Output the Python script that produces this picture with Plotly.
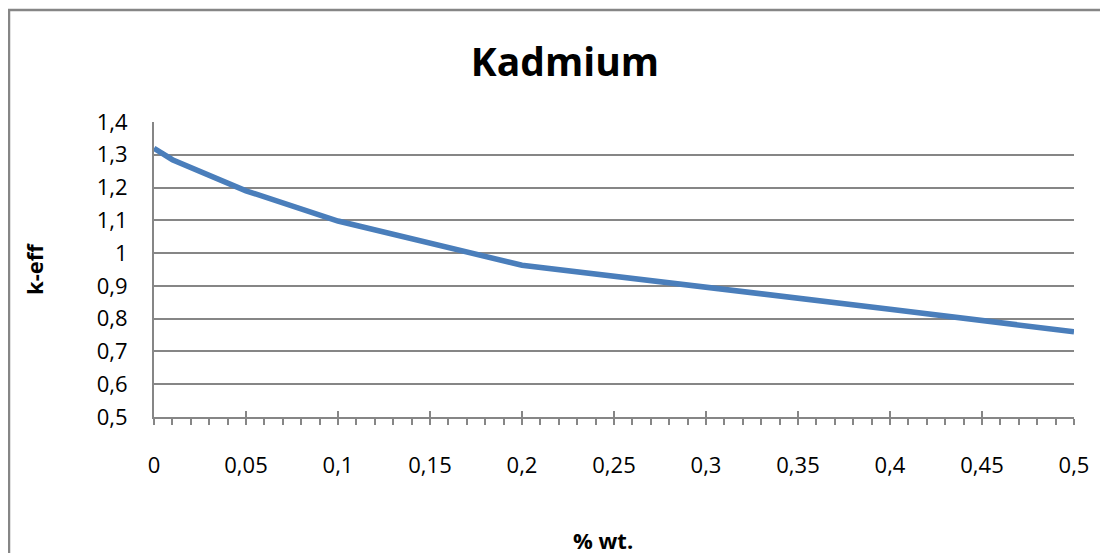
import plotly.graph_objects as go

# Data
x_wt = [0, 0.01, 0.05, 0.1, 0.2, 0.3, 0.4, 0.5]
k_eff = [1.32, 1.285, 1.19, 1.098, 0.963, 0.897, 0.829, 0.760]

x_tickvals = [0, 0.05, 0.1, 0.15, 0.2, 0.25, 0.3, 0.35, 0.4, 0.45, 0.5]
x_ticktext = ["0", "0,05", "0,1", "0,15", "0,2", "0,25", "0,3", "0,35", "0,4", "0,45", "0,5"]
y_tickvals = [0.5, 0.6, 0.7, 0.8, 0.9, 1.0, 1.1, 1.2, 1.3, 1.4]
y_ticktext = ["0,5", "0,6", "0,7", "0,8", "0,9", "1", "1,1", "1,2", "1,3", "1,4"]

# page has an 8px body margin, compensate
W, H = 1108, 553
L, R, T, B = 146, 42, 114, 144
pw, ph = W - L - R, H - T - B

GRAY = "#868686"
FONT = "Open Sans"

fig = go.Figure()
fig.add_trace(go.Scatter(
    x=x_wt, y=k_eff, mode="lines",
    line=dict(color="#4A7EBB", width=5.5),
    showlegend=False, hoverinfo="skip", cliponaxis=False,
))
# dummy trace for overlay axis with inside ticks
fig.add_trace(go.Scatter(x=[x_wt[0]], y=[k_eff[0]], xaxis="x2", mode="markers",
                         marker=dict(opacity=0), showlegend=False, hoverinfo="skip"))

fig.update_layout(
    width=W, height=H,
    margin=dict(l=L, r=R, t=T, b=B),
    paper_bgcolor="white", plot_bgcolor="white",
    font=dict(family=FONT, color="black", size=22),
    title=dict(text="<b>Kadmium</b>", x=557 / W, xanchor="center",
               y=1 - 54 / H, yanchor="middle", yref="container",
               font=dict(size=39, family=FONT, color="black")),
    xaxis=dict(range=[0, 0.5], tickvals=x_tickvals, ticktext=x_ticktext,
               showgrid=False, zeroline=False,
               showline=True, linecolor=GRAY, linewidth=2,
               ticks="outside", ticklen=6, tickwidth=2, tickcolor=GRAY,
               minor=dict(dtick=0.01, ticks="outside", ticklen=6, tickwidth=1.5,
                          tickcolor=GRAY, showgrid=False),
               ticklabelstandoff=22),
    xaxis2=dict(range=[0, 0.5], overlaying="x", anchor="y", side="bottom",
                tickvals=x_tickvals, ticks="inside", ticklen=6, tickwidth=2,
                tickcolor=GRAY, showticklabels=False, showgrid=False,
                zeroline=False, showline=False),
    yaxis=dict(range=[0.5, 1.4], tickvals=y_tickvals, ticktext=y_ticktext,
               showgrid=True, gridcolor=GRAY, gridwidth=1.5, zeroline=False,
               showline=True, linecolor=GRAY, linewidth=2,
               ticks="", ticklabelstandoff=20,
               title=dict(text="<b>k-eff</b>", standoff=47,
                          font=dict(size=22, family=FONT, color="black"))),
    annotations=[dict(text="<b>% wt.</b>", xref="paper", yref="paper",
                      x=(603 - 8 - L) / pw, y=-(540 - 8 - (T + ph)) / ph,
                      xanchor="center", yanchor="middle", showarrow=False,
                      font=dict(size=22, family=FONT, color="black"))],
    shapes=[dict(type="rect", xref="paper", yref="paper",
                 x0=(1 - L) / pw, x1=1.3, y0=-1.0, y1=1 + (T - 2) / ph,
                 line=dict(color=GRAY, width=2.5), layer="below")],
)

fig.write_html("out.html")
